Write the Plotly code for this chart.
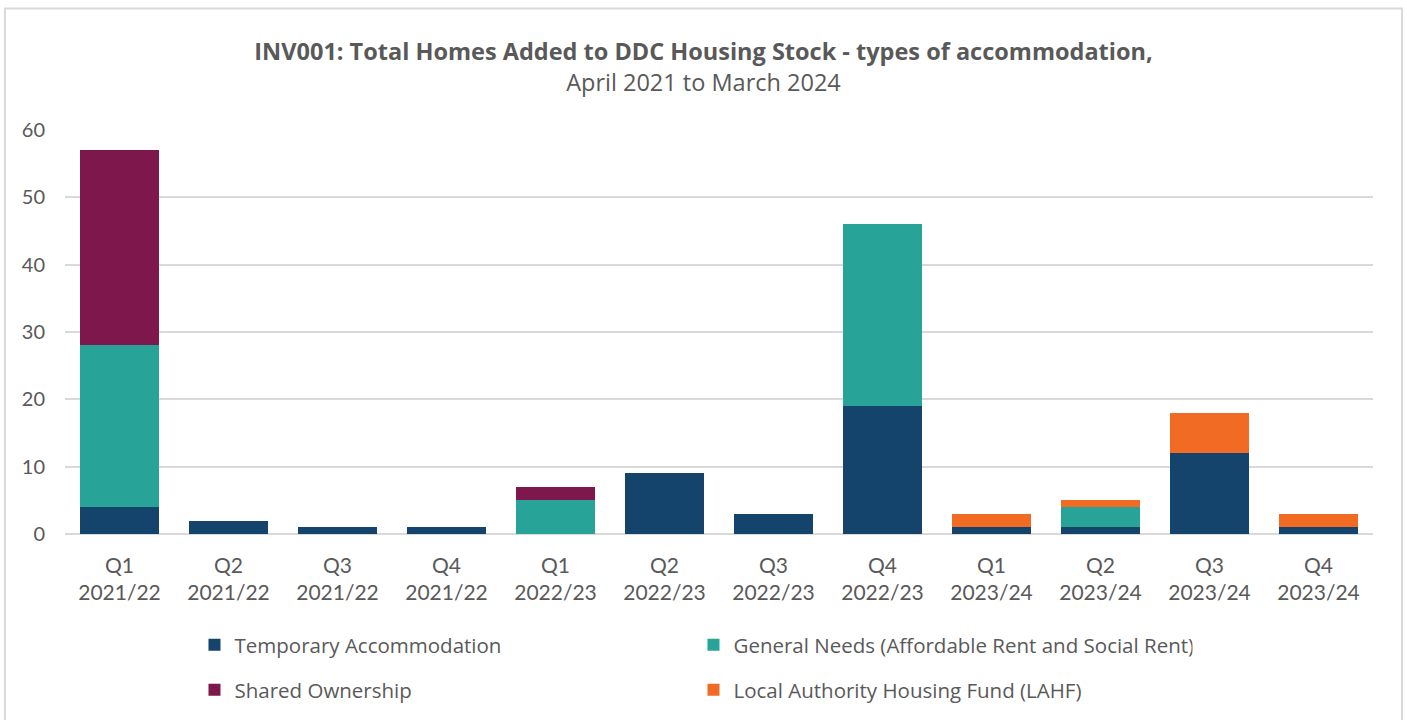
import plotly.graph_objects as go

quarters = ["Q1<br>2021/22", "Q2<br>2021/22", "Q3<br>2021/22", "Q4<br>2021/22",
            "Q1<br>2022/23", "Q2<br>2022/23", "Q3<br>2022/23", "Q4<br>2022/23",
            "Q1<br>2023/24", "Q2<br>2023/24", "Q3<br>2023/24", "Q4<br>2023/24"]

temporary_accommodation = [4, 2, 1, 1, 0, 9, 3, 19, 1, 1, 12, 1]
general_needs = [24, 0, 0, 0, 5, 0, 0, 27, 0, 3, 0, 0]
shared_ownership = [29, 0, 0, 0, 2, 0, 0, 0, 0, 0, 0, 0]
lahf = [0, 0, 0, 0, 0, 0, 0, 0, 2, 1, 6, 2]

# (name, values, colour, legend row)
series = [
    ("Temporary Accommodation", temporary_accommodation, "#14436B", "legend"),
    ("General Needs (Affordable Rent and Social Rent)", general_needs, "#27A398", "legend"),
    ("Shared Ownership", shared_ownership, "#7E174B", "legend2"),
    ("Local Authority Housing Fund (LAHF)", lahf, "#F26B24", "legend2"),
]

FONT = "Lato"
WIDE = "Open Sans"
TEXT = "#595959"

fig = go.Figure()
for name, vals, color, leg in series:
    fig.add_trace(go.Bar(
        x=quarters, y=vals, name=name, legend=leg,
        marker=dict(color=color, line=dict(width=0)),
        hoverinfo="x+y+name",
    ))

legend_common = dict(
    orientation="h", traceorder="normal",
    x=0.099, xanchor="left", yanchor="top",
    entrywidth=454, entrywidthmode="pixels",
    font=dict(family=WIDE, size=20.5, color=TEXT),
    itemwidth=30, bgcolor="rgba(0,0,0,0)",
)

fig.update_layout(
    barmode="stack",
    bargap=0.28,
    width=1407, height=720,
    paper_bgcolor="white", plot_bgcolor="white",
    margin=dict(l=65, r=34, t=130, b=185),
    font=dict(family=FONT, color=TEXT, size=20),
    title=dict(
        text="<b>INV001: Total Homes Added to DDC Housing Stock - types of accommodation,</b>"
             "<br>April 2021 to March 2024",
        x=0.5, xanchor="center", y=0.916, yanchor="top",
        font=dict(family=WIDE, size=23.5, color=TEXT),
    ),
    xaxis=dict(
        showgrid=False, showline=False, ticks="",
        ticklabelstandoff=17,
        tickfont=dict(family=FONT, size=21, color=TEXT),
    ),
    yaxis=dict(
        range=[0, 60], dtick=10, showgrid=True, gridcolor="#D9D9D9", gridwidth=2,
        zeroline=True, zerolinecolor="#D9D9D9", zerolinewidth=2,
        ticks="", ticklabelstandoff=19,
        tickfont=dict(family=FONT, size=20, color=TEXT),
    ),
    legend=dict(legend_common, y=-0.222),
    legend2=dict(legend_common, y=-0.333),
    shapes=[dict(
        type="rect", xref="paper", yref="paper",
        x0=-0.0459, x1=1.0222, y0=-0.47, y1=1.301,
        line=dict(color="#D9D9D9", width=2), fillcolor="rgba(0,0,0,0)",
        layer="below",
    )],
)

fig.write_html("out.html")
